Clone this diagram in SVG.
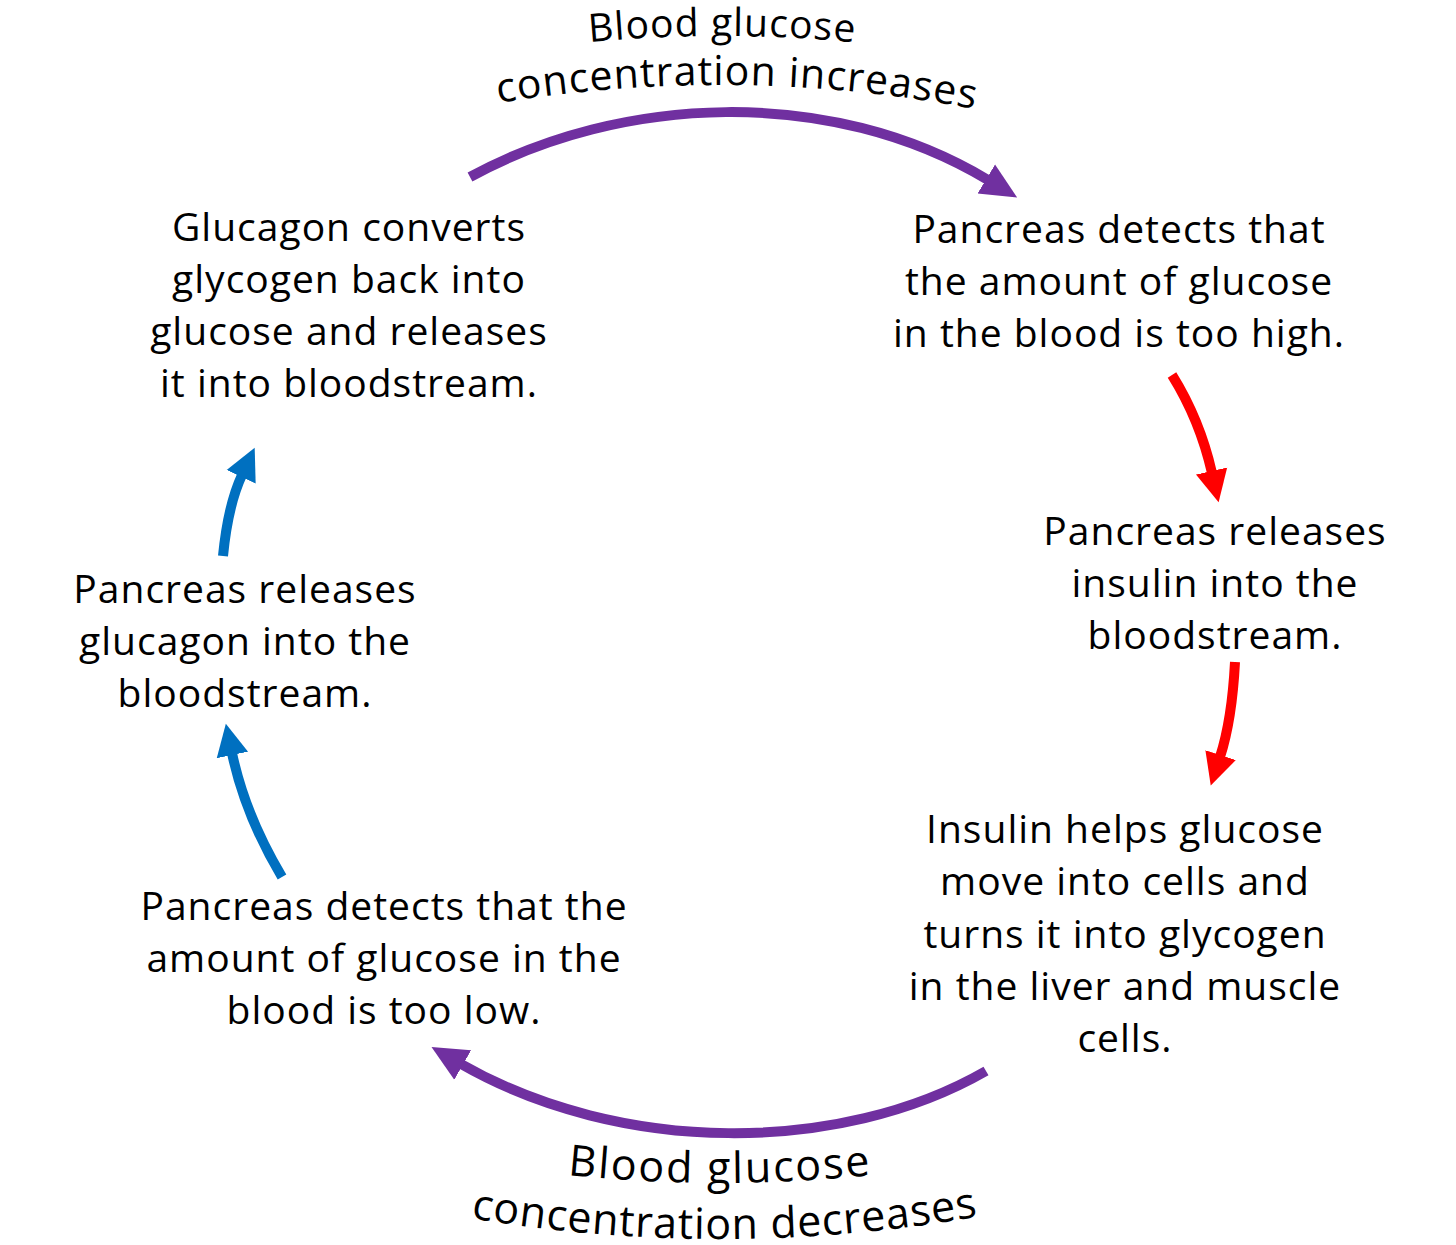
<svg xmlns="http://www.w3.org/2000/svg" width="1456" height="1245" viewBox="0 0 1456 1245">
<style>
.t{font-family:"Open Sans",Lato,"Liberation Sans",sans-serif;font-size:39px;letter-spacing:1px;fill:#000;text-anchor:middle}
.c{fill:none;stroke-width:10;stroke-linecap:butt}
.p{stroke:#7030A0}.r{stroke:#FF0000}.b{stroke:#0070C0}
</style>
<defs>
<marker id="hp" markerUnits="userSpaceOnUse" viewBox="0 -18 38 36" refX="2" refY="0" markerWidth="38" markerHeight="36" orient="auto"><path d="M0,-17 L36,0 L0,17 z" fill="#7030A0"/></marker>
<marker id="hr" markerUnits="userSpaceOnUse" viewBox="0 -17 34 34" refX="2" refY="0" markerWidth="34" markerHeight="34" orient="auto"><path d="M0,-16 L32,0 L0,16 z" fill="#FF0000"/></marker>
<marker id="hb" markerUnits="userSpaceOnUse" viewBox="0 -17 34 34" refX="2" refY="0" markerWidth="34" markerHeight="34" orient="auto"><path d="M0,-16 L32,0 L0,16 z" fill="#0070C0"/></marker>
<path id="top1" d="M-694,1450 A1414,1414 0 0 1 2134,1450"/>
<path id="top2" d="M-645,1450 A1365,1365 0 0 1 2085,1450"/>
<path id="bot1" d="M-726,-263 A1446,1446 0 0 0 2166,-263"/>
<path id="bot2" d="M-782,-263 A1502,1502 0 0 0 2222,-263"/>
</defs>
<g id="connectors">
<path class="c p" d="M470,177 C620,95 830,85 988,180" marker-end="url(#hp)"/>
<path class="c p" d="M986,1071 C840,1155 620,1155 461,1064" marker-end="url(#hp)"/>
<path class="c r" d="M1172,375 Q1200,420 1212,473" marker-end="url(#hr)"/>
<path class="c r" d="M1235,662 Q1232,720 1220,757" marker-end="url(#hr)"/>
<path class="c b" d="M223,556 Q228,505 242,475" marker-end="url(#hb)"/>
<path class="c b" d="M282,877 Q245,815 232,753" marker-end="url(#hb)"/>
</g>
<g id="label-increase">
<text class="t"><textPath href="#top1" startOffset="50.05%">Blood glucose</textPath></text>
<text class="t" style="font-size:41px"><textPath href="#top2" startOffset="50.4%">concentration increases</textPath></text>
</g>
<g id="label-decrease">
<text class="t" style="font-size:43px;letter-spacing:2px"><textPath href="#bot1" startOffset="50%">Blood glucose</textPath></text>
<text class="t" style="font-size:43px;letter-spacing:0.8px"><textPath href="#bot2" startOffset="50.1%">concentration decreases</textPath></text>
</g>
<g id="node-high">
<text class="t" x="1119" y="243">Pancreas detects that</text>
<text class="t" x="1119" y="295">the amount of glucose</text>
<text class="t" x="1119" y="347">in the blood is too high.</text>
</g>
<g id="node-insulin">
<text class="t" x="1215" y="545">Pancreas releases</text>
<text class="t" x="1215" y="597">insulin into the</text>
<text class="t" x="1215" y="649">bloodstream.</text>
</g>
<g id="node-glycogen">
<text class="t" x="1125" y="843">Insulin helps glucose</text>
<text class="t" x="1125" y="895">move into cells and</text>
<text class="t" x="1125" y="948">turns it into glycogen</text>
<text class="t" x="1125" y="1000">in the liver and muscle</text>
<text class="t" x="1125" y="1052">cells.</text>
</g>
<g id="node-low">
<text class="t" x="384" y="920">Pancreas detects that the</text>
<text class="t" x="384" y="972">amount of glucose in the</text>
<text class="t" x="384" y="1024">blood is too low.</text>
</g>
<g id="node-glucagon">
<text class="t" x="245" y="603">Pancreas releases</text>
<text class="t" x="245" y="655">glucagon into the</text>
<text class="t" x="245" y="707">bloodstream.</text>
</g>
<g id="node-convert">
<text class="t" x="349" y="241">Glucagon converts</text>
<text class="t" x="349" y="293">glycogen back into</text>
<text class="t" x="349" y="345">glucose and releases</text>
<text class="t" x="349" y="397">it into bloodstream.</text>
</g>
</svg>
